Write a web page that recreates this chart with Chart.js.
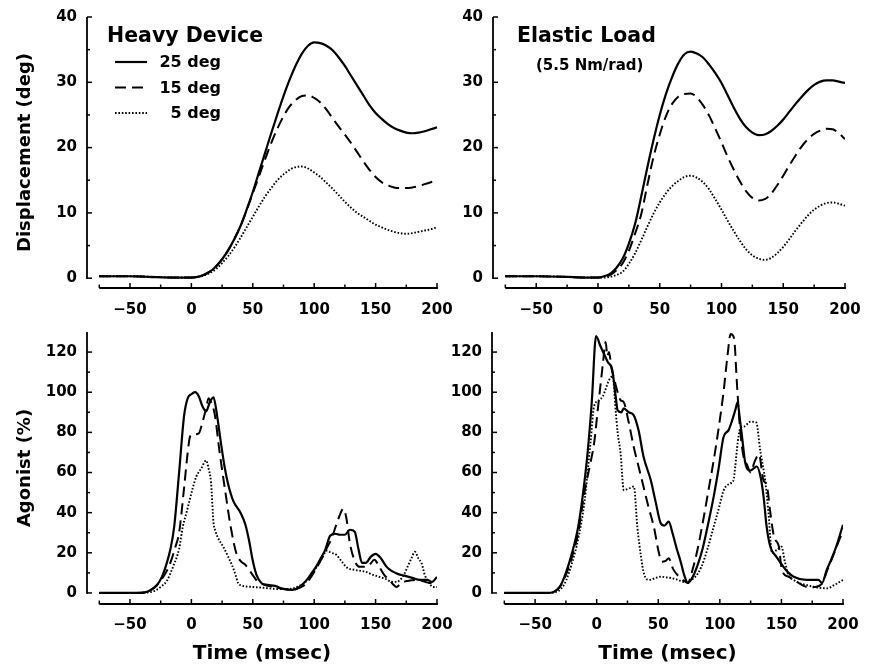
<!DOCTYPE html>
<html><head><meta charset="utf-8">
<script src="https://cdn.jsdelivr.net/npm/chart.js@4.4.1/dist/chart.umd.min.js"></script>
<style>
html,body{margin:0;padding:0;background:#fff;}
#wrap{position:relative;width:870px;height:669px;overflow:hidden;background:#fff;}
canvas{position:absolute;}
</style></head><body>
<div id="wrap">
<canvas id="c1" width="460" height="320" style="left:0;top:0;width:460px;height:320px"></canvas>
<canvas id="c2" width="440" height="320" style="left:430px;top:0;width:440px;height:320px"></canvas>
<canvas id="c3" width="460" height="349" style="left:0;top:320px;width:460px;height:349px"></canvas>
<canvas id="c4" width="440" height="349" style="left:430px;top:320px;width:440px;height:349px"></canvas>
</div>
<script>
// ---------- data ----------
const seriesLabels = ['25 deg', '15 deg', '5 deg'];
const xTicks = [-50, 0, 50, 100, 150, 200];
const xMinor = [-75, -25, 25, 75, 125, 175];
const dispTicks = [0, 10, 20, 30, 40];
const dispMinor = [5, 15, 25, 35];
const agTicks = [0, 20, 40, 60, 80, 100, 120];
const agMinor = [10, 30, 50, 70, 90, 110];

const dispTime = [-75,-50,-25,-10,0,5,10,15,20,25,30,35,40,45,50,55,60,65,70,75,80,85,90,95,100,105,110,115,120,125,130,135,140,145,150,155,160,165,170,175,180,185,190,195,200];

const heavy25 = [0.3,0.3,0.15,0.1,0.1,0.2,0.5,1.0,1.8,2.9,4.3,6.0,8.0,10.5,13.2,16.2,19.2,22.2,25.1,27.9,30.4,32.6,34.4,35.6,36.1,36.0,35.6,34.9,33.8,32.5,31.0,29.5,28.0,26.5,25.3,24.4,23.6,23.0,22.6,22.3,22.2,22.3,22.5,22.8,23.1];
const heavy15 = [0.3,0.3,0.15,0.1,0.1,0.2,0.5,1.0,1.8,2.9,4.3,6.0,8.0,10.4,13.0,15.6,18.2,20.7,22.9,24.8,26.3,27.3,27.9,28.0,27.6,26.9,25.8,24.5,23.2,22.0,20.7,19.3,17.9,16.6,15.5,14.7,14.2,13.9,13.8,13.8,13.9,14.1,14.4,14.7,15.0];
const heavy5 = [0.3,0.3,0.15,0.1,0.1,0.2,0.4,0.8,1.4,2.3,3.4,4.7,6.2,7.8,9.4,11.0,12.5,13.8,15.0,15.9,16.6,17.0,17.1,16.8,16.2,15.5,14.6,13.7,12.7,11.7,10.8,10.0,9.4,8.8,8.2,7.8,7.4,7.1,6.9,6.8,6.9,7.1,7.3,7.5,7.8];

const elastic25 = [0.3,0.3,0.2,0.1,0.1,0.3,0.7,1.6,3.0,5.3,8.3,12.5,17.0,21.2,25.0,28.2,30.8,32.9,34.3,34.7,34.4,33.8,32.7,31.4,29.9,28.0,26.1,24.4,23.1,22.3,21.9,22.0,22.5,23.3,24.3,25.5,26.7,27.8,28.8,29.6,30.1,30.3,30.3,30.1,29.9];
const elastic15 = [0.3,0.3,0.2,0.1,0.1,0.2,0.5,1.2,2.3,4.2,6.8,9.8,14.3,18.6,22.0,24.8,26.7,27.8,28.2,28.3,27.7,26.5,24.9,22.9,20.8,18.6,16.6,14.8,13.3,12.3,11.9,12.1,12.9,14.2,15.7,17.3,18.8,20.2,21.3,22.1,22.6,22.9,22.8,22.2,21.3];
const elastic5 = [0.3,0.3,0.2,0.1,0.1,0.1,0.2,0.5,1.0,2.2,3.8,5.8,7.9,9.9,11.6,13.0,14.1,14.9,15.5,15.7,15.4,14.7,13.6,12.1,10.5,8.8,7.2,5.7,4.4,3.5,3.0,2.8,3.1,3.8,4.8,6.0,7.3,8.5,9.6,10.5,11.1,11.5,11.6,11.4,11.1];

// agonist EMG, [time msec, % ]
const heavyAg25 = [[-75,0],[-45,0],[-38,0.3],[-33,1.5],[-28,4],[-24,8],[-20,15],[-17,22],[-14,33],[-10,60],[-6,88],[-3,97],[0,99],[3,100],[6,98],[9,93],[12,90.5],[15,95],[18,97.5],[21,88],[24,75],[27,63],[30,54],[34,46],[40,40],[44,34],[47,26],[50,16],[53,9],[57,5],[62,4],[68,3.5],[75,2],[82,1.5],[88,3],[94,6.5],[98,10],[102,13.5],[106,18],[109,21.5],[113,28.5],[117,29.5],[121,29],[125,29],[129,31.5],[133,30.5],[136,22],[139,15],[142,15],[146,18],[150,19.5],[154,17.5],[159,13],[163,11],[168,9.5],[174,8.5],[180,7.5],[186,6.5],[192,6.5],[196,5.5],[200,8]];
const heavyAg15 = [[-75,0],[-45,0],[-38,0.3],[-33,1.5],[-28,4],[-24,7],[-20,11],[-16,17],[-13,23],[-10,30],[-6,52],[-3,70],[-1,78],[2,79],[6,79.5],[9,85],[12,92],[14,97],[16,95],[19,89],[23,70],[27,53],[32,33],[36.5,20],[40.5,15.6],[44,14],[47,11.5],[51,8],[54,5.6],[60,4],[68,3],[75,2],[82,1.5],[88,2.5],[94,5],[98,8.5],[102,12.5],[106,17],[110,22],[114,27],[118,34],[121,39],[123.5,42],[126,38],[129,25],[133,16],[137,13],[141,13],[145,14],[149,16.5],[153,13],[157,9],[161,6.5],[164,4.5],[167,3],[171,5],[176,6],[182,6.5],[188,6],[194,5],[200,5]];
const heavyAg5 = [[-75,0],[-45,0],[-35,0.3],[-30,1],[-25,3],[-20,6],[-15,13],[-10,22],[-7,33],[-4,40],[-1.5,46],[1,52],[4,58],[8,62],[12,66],[14,62],[16,55],[18,35],[19.5,31],[22,27],[26,23],[30,18],[33,14],[36,9],[38,5],[42,3.5],[50,3],[60,2.5],[70,2],[80,2],[86,3],[92,5],[98,9],[103,14],[107,18],[110,21],[114,20],[118,19],[122,16],[127,12.5],[133,11.5],[142,10.5],[148,9],[153,8],[158,7],[163,5.6],[167,5.5],[170,6.5],[173,9],[176,13],[179,17],[182,20.5],[185,17],[187.5,14.8],[190,9],[193,5.6],[197,3],[200,3]];

const elasticAg25 = [[-75,0],[-40,0],[-35,0.5],[-30,3],[-25,10],[-20,20],[-15,33],[-11,50],[-7.5,69],[-4,95],[-0.5,128],[3,123],[6,119],[9,115],[12.7,111],[15.4,98],[17,91],[20,90],[22,92],[26,90],[30,88.6],[34,81],[38,68],[44,56],[48,45],[52,34.7],[55,33.5],[58.5,35.5],[61.5,30],[65,22],[68,16],[71,9],[74,5],[78,8],[82,14],[86,22],[90,33],[95,48],[99,62],[103,77.7],[107,81],[110,86],[112.5,91],[114.4,95],[116,88],[118,78],[120.6,65],[124.7,61],[127.4,62],[130,63],[133,58],[135.5,48],[138,33],[141,23],[146,18],[151.7,13],[155,10.5],[160,8.1],[170,6.5],[180,6.5],[183,5],[186.8,11.5],[190,16],[195,24],[200,34]];
const elasticAg15 = [[-75,0],[-40,0],[-35,0.5],[-30,3],[-25,9],[-20,18],[-15,30],[-10,50],[-5,65],[-2,75],[1,92],[3,103],[5,114],[7.3,125],[8.7,118],[10,120],[12,112],[14,107],[17,100],[19.4,96],[22,95],[26,85],[30,73],[34,63],[38,53],[42,43],[46.4,33],[50.5,20],[53,15.6],[56,16],[58.5,17.3],[62,12],[67,8],[71,6],[74,5],[78,12],[82,22],[87,38],[91,52],[95,66],[99,82],[103,100],[106,117],[108.8,129],[111.5,127],[114,103],[116,85],[118,72.7],[120,66],[122,64],[125,60],[128,65],[131.7,69],[135.5,56],[138,54],[141,40],[144,28],[148,23],[150.3,11.5],[156,8],[162.5,5.6],[168,3.5],[173,2.8],[177,3],[183,4.6],[187,11],[191,17],[196,25],[200,31]];
const elasticAg5 = [[-75,0],[-40,0],[-33,0.5],[-29,2],[-25,6],[-20,15],[-15,27],[-10,45],[-5,75],[-2.2,92.8],[1.9,96],[5,98],[10,106],[13,108],[15.4,91],[17,80],[19.4,69.6],[22,51.3],[26,52],[30.2,53],[33,33],[36,18],[38.3,9.8],[42.4,6.5],[48,7.5],[51.8,8.1],[56,7.8],[61.5,7.3],[66,6.5],[70.7,5.6],[75,6],[80,8],[85,13],[90,22],[95,33],[100,44],[103,51],[108.5,54.6],[111,56],[112.5,63],[114.5,75],[116.6,82],[120,83],[124.7,85.3],[129.5,85],[132.8,71],[136.8,56],[139.5,40],[142.3,20],[146.3,21.4],[150,23],[153,15],[155.7,9],[160,6.5],[165,4.8],[170,4],[176,3.1],[182,2.5],[187,2.3],[193,4],[200,6.5]];

// ---------- styling ----------
const FONT = "'DejaVu Sans', 'Liberation Sans', sans-serif";
Chart.defaults.font.family = FONT;
Chart.defaults.font.weight = 'bold';
Chart.defaults.font.size = 15;
Chart.defaults.color = '#000';

const styles = [
  {borderWidth: 2.2, borderDash: []},
  {borderWidth: 2.0, borderDash: [11, 6]},
  {borderWidth: 1.9, borderDash: [1.6, 1.8]}
];

function makeDatasets(list) {
  return list.map((pts, i) => Object.assign({
    label: seriesLabels[i],
    data: pts,
    borderColor: '#000',
    backgroundColor: '#000',
    pointRadius: 0,
    fill: false,
    cubicInterpolationMode: 'monotone',
    borderCapStyle: 'butt'
  }, styles[i]));
}
const fromArrays = (t, v) => t.map((x, i) => ({x, y: v[i]}));
const fromPairs = p => p.map(([x, y]) => ({x, y}));

const framePlugin = {
  id: 'frame',
  afterDraw(chart, args, o) {
    const {ctx, chartArea: a, scales: {x, y}} = chart;
    ctx.save();
    ctx.strokeStyle = '#000';
    ctx.fillStyle = '#000';
    ctx.setLineDash([]);
    ctx.lineCap = 'butt';
    ctx.lineWidth = 1.8;
    const yl = a.left, xb = a.bottom;
    ctx.beginPath();
    ctx.moveTo(yl, y.getPixelForValue(0) + 0.9);
    ctx.lineTo(yl, y.getPixelForValue(o.yTop));
    ctx.stroke();
    const tick = (px, py, dx, dy) => { ctx.beginPath(); ctx.moveTo(px, py); ctx.lineTo(px + dx, py + dy); ctx.stroke(); };
    ctx.lineWidth = 1.5;
    o.yMajor.forEach(v => tick(yl, y.getPixelForValue(v), 5, 0));
    o.yMinor.forEach(v => tick(yl, y.getPixelForValue(v), 3, 0));
    ctx.lineWidth = 1.8;
    ctx.beginPath();
    ctx.moveTo(x.getPixelForValue(-75), xb);
    ctx.lineTo(x.getPixelForValue(200) + 0.9, xb);
    ctx.stroke();
    ctx.lineWidth = 1.5;
    xTicks.forEach(v => tick(x.getPixelForValue(v), xb, 0, -5));
    xMinor.forEach(v => tick(x.getPixelForValue(v), xb, 0, -3.5));
    (o.texts || []).forEach(t => {
      ctx.font = t.font; ctx.textAlign = t.align || 'left'; ctx.textBaseline = 'alphabetic';
      ctx.fillText(t.text, t.x, t.y);
    });
    (o.legend || []).forEach(s => {
      const ds = chart.data.datasets[s.ds];
      ctx.lineWidth = ds.borderWidth;
      ctx.setLineDash(ds.borderDash || []);
      ctx.beginPath(); ctx.moveTo(s.x1, s.y); ctx.lineTo(s.x2, s.y); ctx.stroke();
      ctx.setLineDash([]);
      ctx.font = "bold 16px " + FONT; ctx.textAlign = 'right'; ctx.textBaseline = 'alphabetic';
      ctx.fillText(ds.label, s.tx, s.ty);
    });
    ctx.restore();
  }
};

function xScale(h, pad, title) {
  return {
    type: 'linear', min: -85, max: 200,
    afterBuildTicks: s => { s.ticks = xTicks.map(v => ({value: v})); },
    afterFit: s => { s.height = h; s.paddingLeft = 0; s.paddingRight = 0; },
    grid: {display: false, drawTicks: false},
    border: {display: false},
    ticks: {padding: pad, maxRotation: 0, autoSkip: false, callback: v => String(v).replace('-', '\u2212')},
    title: title ? {display: true, text: title, font: {size: 20, weight: 'bold'}, padding: {top: 0, bottom: 3}} : {display: false}
  };
}
function yScale(min, max, ticks, w, title) {
  return {
    type: 'linear', min, max,
    afterBuildTicks: s => { s.ticks = ticks.map(v => ({value: v})); },
    afterFit: s => { s.width = w; s.paddingTop = 0; s.paddingBottom = 0; },
    grid: {display: false, drawTicks: false},
    border: {display: false},
    ticks: {padding: 10, autoSkip: false},
    title: title ? {display: true, text: title, font: {size: 18, weight: 'bold'}, padding: {top: 15, bottom: 0}} : {display: false}
  };
}

function build(id, datasets, cfg) {
  return new Chart(document.getElementById(id), {
    type: 'line',
    data: {datasets},
    plugins: [framePlugin],
    options: {
      responsive: false, animation: false, events: [],
      layout: {padding: cfg.padding},
      scales: {x: xScale(cfg.xh, cfg.xpad, cfg.xtitle), y: yScale(cfg.ymin, cfg.ymax, cfg.yt, cfg.yw, cfg.ytitle)},
      plugins: {
        legend: {display: false}, tooltip: {enabled: false},
        frame: {yTop: cfg.ytop, yMajor: cfg.yt, yMinor: cfg.ym, texts: cfg.texts, legend: cfg.legend}
      }
    }
  });
}

build('c1', makeDatasets([fromArrays(dispTime, heavy25), fromArrays(dispTime, heavy15), fromArrays(dispTime, heavy5)]), {
  padding: {left: 0, top: 17, right: 23, bottom: 0}, xh: 32, xpad: 13, yw: 87,
  ymin: -1.5, ymax: 40, ytop: 40, yt: dispTicks, ym: dispMinor, ytitle: 'Displacement (deg)',
  texts: [{text: 'Heavy Device', x: 107, y: 41.5, font: "bold 20.5px " + FONT}],
  legend: [
    {ds: 0, x1: 115, x2: 147, y: 62, tx: 221, ty: 67},
    {ds: 1, x1: 115, x2: 147, y: 87.5, tx: 221, ty: 92.5},
    {ds: 2, x1: 115, x2: 147, y: 113, tx: 221, ty: 118}
  ]
});
build('c2', makeDatasets([fromArrays(dispTime, elastic25), fromArrays(dispTime, elastic15), fromArrays(dispTime, elastic5)]), {
  padding: {left: 0, top: 17, right: 25, bottom: 0}, xh: 32, xpad: 13, yw: 63,
  ymin: -1.5, ymax: 40, ytop: 40, yt: dispTicks, ym: dispMinor,
  texts: [
    {text: 'Elastic Load', x: 87, y: 42, font: "bold 20.5px " + FONT},
    {text: '(5.5 Nm/rad)', x: 106, y: 70, font: "bold 15px " + FONT}
  ]
});
build('c3', makeDatasets([fromPairs(heavyAg25), fromPairs(heavyAg15), fromPairs(heavyAg5)]), {
  padding: {left: 0, top: 12, right: 23, bottom: 0}, xh: 65, xpad: 12, yw: 87, xtitle: 'Time (msec)',
  ymin: -5.5, ymax: 130, ytop: 130, yt: agTicks, ym: agMinor, ytitle: 'Agonist (%)'
});
build('c4', makeDatasets([fromPairs(elasticAg25), fromPairs(elasticAg15), fromPairs(elasticAg5)]), {
  padding: {left: 0, top: 12, right: 27, bottom: 0}, xh: 65, xpad: 12, yw: 62, xtitle: 'Time (msec)',
  ymin: -5.5, ymax: 130, ytop: 130, yt: agTicks, ym: agMinor
});
</script>
</body></html>
